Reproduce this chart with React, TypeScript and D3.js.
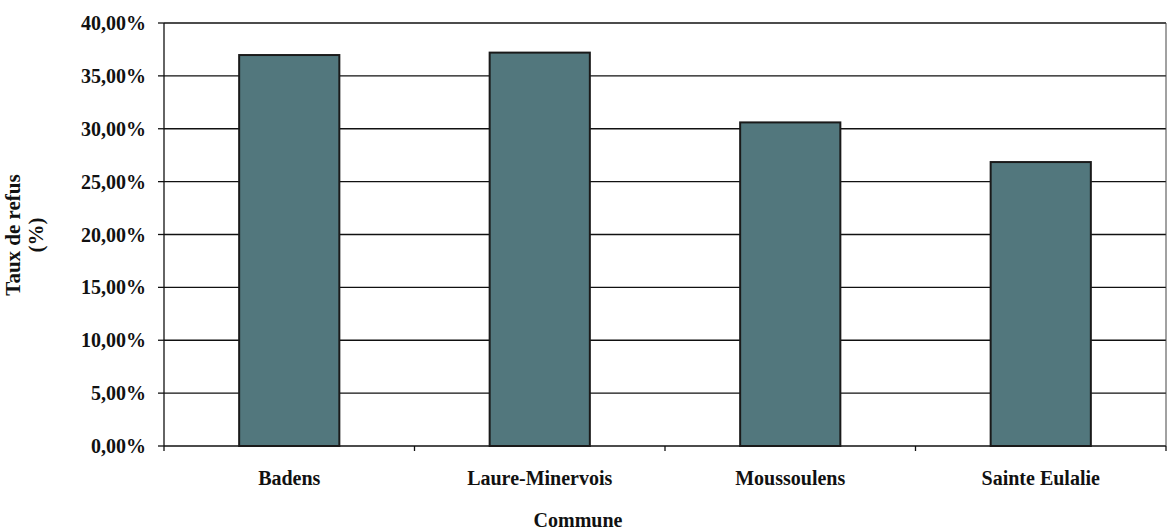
import React from "react";
import * as d3 from "d3";

const categories = ["Badens", "Laure-Minervois", "Moussoulens", "Sainte Eulalie"];
const values = [0.3697, 0.372, 0.306, 0.2685];
const yTicks = [0, 0.05, 0.1, 0.15, 0.2, 0.25, 0.3, 0.35, 0.4];

const W = 1168;
const H = 531;
const left = 164;
const right = 1166;
const top = 23;
const bottom = 446;
const font = "Liberation Serif, DejaVu Serif, serif";

export default function App() {
  const x = d3.scaleBand<string>().domain(categories).range([left, right]).paddingInner(0.6).paddingOuter(0.3);
  const xb = d3.scaleBand<string>().domain(categories).range([left, right]);
  const y = d3.scaleLinear().domain([0, 0.4]).range([bottom, top]);
  const fmt = (v: number) => (v * 100).toFixed(2).replace(".", ",") + "%";
  const boundaries = categories.map((c) => xb(c)!).concat([right]);

  return (
    <svg width={W} height={H} style={{ position: "absolute", left: 0, top: 0, background: "#fff" }}>
      {yTicks.map((t) => (
        <g key={t}>
          <line x1={left} x2={right} y1={y(t)} y2={y(t)} stroke="#111" strokeWidth={1.3} />
          <line x1={left - 6} x2={left} y1={y(t)} y2={y(t)} stroke="#111" strokeWidth={1.3} />
          <text x={146} y={y(t)} dy="0.35em" textAnchor="end" style={{ fontFamily: font }} fontWeight="bold" fontSize={20} fill="#111">
            {fmt(t)}
          </text>
        </g>
      ))}
      <line x1={left} x2={left} y1={top} y2={bottom} stroke="#111" strokeWidth={1.3} />
      <line x1={right} x2={right} y1={top} y2={bottom} stroke="#444" strokeWidth={1} />
      {boundaries.map((b, i) => (
        <line key={i} x1={b} x2={b} y1={bottom} y2={bottom + 5} stroke="#111" strokeWidth={1.3} />
      ))}
      {categories.map((c, i) => (
        <g key={c}>
          <rect
            x={x(c)}
            y={y(values[i])}
            width={x.bandwidth()}
            height={bottom - y(values[i])}
            fill="#52777d"
            stroke="#1a1a1a"
            strokeWidth={2}
          />
          <text x={xb(c)! + xb.bandwidth() / 2} y={485} textAnchor="middle" style={{ fontFamily: font }} fontWeight="bold" fontSize={20} fill="#111">
            {c}
          </text>
        </g>
      ))}
      <text x={578} y={527} textAnchor="middle" style={{ fontFamily: font }} fontWeight="bold" fontSize={20} fill="#111">
        Commune
      </text>
      <g transform="translate(20,235) rotate(-90)">
        <text x={0} y={0} textAnchor="middle" style={{ fontFamily: font }} fontWeight="bold" fontSize={21} fill="#111">
          <tspan x={0} dy="0">Taux de refus</tspan>
          <tspan x={0} dy="23">(%)</tspan>
        </text>
      </g>
    </svg>
  );
}
